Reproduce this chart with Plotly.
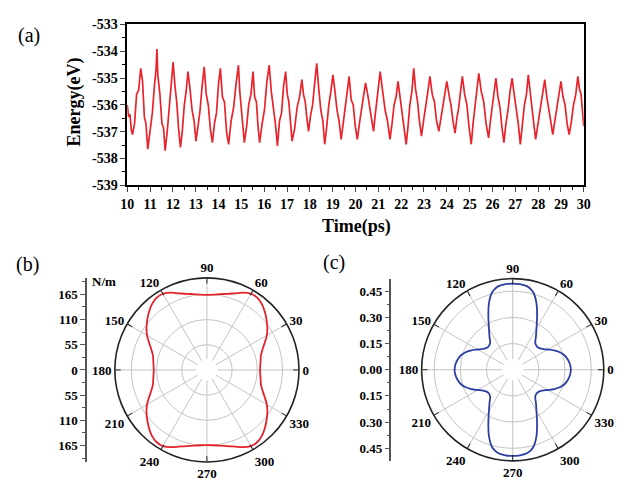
import plotly.graph_objects as go

W, H = 625, 486

# ---------------- (a) energy vs time ----------------
time_ps = [
    10.00, 10.06, 10.12, 10.18, 10.23,
    10.32, 10.41, 10.50, 10.59,
    10.67, 10.75, 10.82, 10.90,
    11.00, 11.10, 11.20, 11.26, 11.30,
    11.34, 11.43, 11.52, 11.59, 11.66,
    11.75, 11.84, 11.93, 12.01,
    12.09, 12.17, 12.25, 12.33,
    12.41, 12.50, 12.58, 12.66,
    12.75, 12.84, 12.93, 13.01,
    13.10, 13.19, 13.28, 13.37,
    13.46, 13.55, 13.64, 13.73,
    13.82, 13.91, 14.00, 14.08,
    14.17, 14.26, 14.35, 14.44,
    14.55, 14.66, 14.77, 14.87,
    14.93, 15.00, 15.07, 15.13,
    15.23, 15.32, 15.42, 15.51,
    15.58, 15.66, 15.73, 15.80,
    15.91, 16.01, 16.12, 16.22,
    16.31, 16.40, 16.49, 16.58,
    16.67, 16.76, 16.85, 16.94,
    17.01, 17.08, 17.15, 17.22,
    17.33, 17.44, 17.55, 17.65,
    17.72, 17.80, 17.87, 17.94,
    18.03, 18.12, 18.21, 18.30,
    18.39, 18.48, 18.57, 18.65,
    18.74, 18.83, 18.92, 19.01,
    19.10, 19.19, 19.28, 19.37,
    19.46, 19.55, 19.64, 19.72,
    19.81, 19.90, 19.99, 20.08,
    20.17, 20.26, 20.35, 20.44,
    20.53, 20.62, 20.71, 20.79,
    20.86, 20.94, 21.01, 21.08,
    21.19, 21.30, 21.40, 21.51,
    21.60, 21.69, 21.78, 21.86,
    21.95, 22.04, 22.13, 22.22,
    22.30, 22.38, 22.47, 22.55,
    22.63, 22.72, 22.80, 22.89,
    22.98, 23.08, 23.17, 23.26,
    23.36, 23.46, 23.55, 23.65,
    23.74, 23.83, 23.92, 24.00,
    24.09, 24.18, 24.27, 24.36,
    24.44, 24.52, 24.60, 24.68,
    24.78, 24.88, 24.97, 25.07,
    25.15, 25.23, 25.32, 25.40,
    25.51, 25.62, 25.72, 25.83,
    25.91, 25.99, 26.07, 26.15,
    26.24, 26.33, 26.41, 26.50,
    26.59, 26.68, 26.77, 26.86,
    26.95, 27.04, 27.13, 27.22,
    27.31, 27.40, 27.49, 27.57,
    27.65, 27.73, 27.81, 27.89,
    27.99, 28.09, 28.19, 28.29,
    28.38, 28.47, 28.55, 28.64,
    28.73, 28.82, 28.91, 29.00,
    29.09, 29.18, 29.27, 29.36,
    29.46, 29.55, 29.65, 29.74,
    29.81, 29.88, 29.94, 30.00,
]
energy_ev = [
    -536.00, -536.45, -536.35, -536.95, -537.11,
    -536.70, -535.60, -535.45, -534.64,
    -535.10, -536.45, -536.70, -537.65,
    -536.90, -536.30, -535.20, -534.70, -533.92,
    -534.90, -535.60, -536.70, -536.85, -537.71,
    -537.00, -536.20, -535.40, -534.40,
    -535.30, -535.90, -536.90, -537.59,
    -537.00, -536.00, -535.50, -534.76,
    -535.40, -536.20, -536.60, -537.35,
    -536.80, -536.20, -535.30, -534.58,
    -535.60, -536.00, -536.90, -537.41,
    -536.70, -536.30, -535.20, -534.64,
    -535.70, -535.90, -537.00, -537.47,
    -536.60, -536.10, -535.20, -534.52,
    -535.50, -536.20, -536.60, -537.41,
    -536.80, -536.00, -535.60, -534.76,
    -535.70, -535.90, -536.80, -537.41,
    -536.70, -536.20, -535.10, -534.52,
    -535.50, -536.10, -536.70, -537.53,
    -536.60, -536.30, -535.30, -534.76,
    -535.60, -535.90, -536.80, -537.35,
    -536.90, -536.10, -535.70, -535.06,
    -535.60, -535.90, -536.50, -536.99,
    -536.40, -536.00, -535.20, -534.45,
    -535.40, -536.20, -536.60, -537.47,
    -536.80, -536.00, -535.50, -534.88,
    -535.50, -536.20, -536.60, -537.29,
    -536.70, -536.10, -535.60, -534.94,
    -535.80, -536.00, -536.80, -537.29,
    -536.70, -536.20, -535.60, -535.18,
    -535.60, -536.10, -536.50, -536.99,
    -536.40, -535.80, -535.40, -534.76,
    -535.50, -536.20, -536.60, -537.29,
    -536.70, -536.00, -535.70, -535.12,
    -535.70, -536.30, -536.70, -537.47,
    -536.80, -536.00, -535.50, -534.64,
    -535.40, -535.90, -536.60, -537.17,
    -536.60, -536.10, -535.50, -534.94,
    -535.60, -535.90, -536.60, -536.99,
    -536.50, -536.00, -535.60, -535.12,
    -535.60, -536.00, -536.60, -537.05,
    -536.50, -536.10, -535.50, -534.94,
    -535.60, -536.00, -536.80, -537.47,
    -536.70, -536.10, -535.50, -534.82,
    -535.50, -535.90, -536.70, -537.23,
    -536.60, -536.00, -535.60, -535.00,
    -535.70, -536.10, -536.80, -537.41,
    -536.70, -536.20, -535.50, -535.00,
    -535.60, -536.10, -536.70, -537.47,
    -536.70, -536.00, -535.60, -534.88,
    -535.50, -536.00, -536.70, -537.29,
    -536.70, -536.10, -535.70, -535.06,
    -535.70, -536.10, -536.60, -537.11,
    -536.60, -536.10, -535.70, -535.12,
    -535.70, -536.00, -536.70, -537.11,
    -536.60, -536.00, -535.60, -534.94,
    -535.40, -535.60, -536.20, -536.80,
]
x_ticks_a = [10, 11, 12, 13, 14, 15, 16, 17, 18, 19, 20, 21, 22, 23, 24, 25, 26, 27, 28, 29, 30]
y_ticks_a = [-539, -538, -537, -536, -535, -534, -533]
y_ticktext_a = ["-539", "-538", "-537", "-536", "-535", "-534", "-533"]

# ---------------- (b), (c) polar curves ----------------
angles_deg = [0, 5, 10, 15, 20, 25, 30, 35, 40, 45, 50, 55, 60, 65, 70, 75, 80, 85, 90,
              95, 100, 105, 110, 115, 120, 125, 130, 135, 140, 145, 150, 155, 160, 165, 170, 175, 180,
              185, 190, 195, 200, 205, 210, 215, 220, 225, 230, 235, 240, 245, 250, 255, 260, 265, 270,
              275, 280, 285, 290, 295, 300, 305, 310, 315, 320, 325, 330, 335, 340, 345, 350, 355, 360]
young_nm = [116, 117, 119, 122, 129, 139, 151, 161, 170, 179, 187, 192, 192, 186, 178, 172, 168, 165, 164,
            165, 168, 172, 178, 186, 192, 192, 187, 179, 170, 161, 151, 139, 129, 122, 119, 117, 116,
            117, 119, 122, 129, 139, 151, 161, 170, 179, 187, 192, 192, 186, 178, 172, 168, 165, 164,
            165, 168, 172, 178, 186, 192, 192, 187, 179, 170, 161, 151, 139, 129, 122, 119, 117, 116]
poisson = [0.333, 0.330, 0.322, 0.310, 0.290, 0.262, 0.232, 0.208, 0.195, 0.193, 0.201, 0.232, 0.272,
           0.330, 0.400, 0.458, 0.485, 0.492, 0.494,
           0.492, 0.485, 0.458, 0.400, 0.330, 0.272, 0.232, 0.201, 0.193, 0.195, 0.208, 0.232, 0.262,
           0.290, 0.310, 0.322, 0.330, 0.333,
           0.330, 0.322, 0.310, 0.290, 0.262, 0.232, 0.208, 0.195, 0.193, 0.201, 0.232, 0.272,
           0.330, 0.400, 0.458, 0.485, 0.492, 0.494,
           0.492, 0.485, 0.458, 0.400, 0.330, 0.272, 0.232, 0.201, 0.193, 0.195, 0.208, 0.232, 0.262,
           0.290, 0.310, 0.322, 0.330, 0.333]
ang_ticks = [0, 30, 60, 90, 120, 150, 180, 210, 240, 270, 300, 330]
ang_ticktext = ["0", "30", "60", "90", "120", "150", "180", "210", "240", "270", "300", "330"]
b_ticks = [-165, -110, -55, 0, 55, 110, 165]
b_ticktext = ["165", "110", "55", "0", "55", "110", "165"]
c_ticks = [-0.45, -0.30, -0.15, 0.0, 0.15, 0.30, 0.45]
c_ticktext = ["0.45", "0.30", "0.15", "0.00", "0.15", "0.30", "0.45"]
b_rmax = 201
c_rmax = 0.522

# ---------------- layout helpers ----------------
def px(x):
    return x / W

def py(y):
    return 1 - y / H

SERIF = "Liberation Serif"
BOLD13 = dict(family=SERIF, size=13, color="black", weight="bold")
BOLD14 = dict(family=SERIF, size=14, color="black", weight="bold")

fig = go.Figure()

fig.add_trace(go.Scatter(x=time_ps, y=energy_ev, mode="lines",
                         line=dict(color="#e8232b", width=1.7),
                         xaxis="x", yaxis="y", showlegend=False))

# polar panels
bcx, bcy, bR = 204.5, 374.5, 95
ccx, ccy, cR = 517.3, 374.3, 94

def polar_pair(cx, cy, R, rmax, minor_r, major_r):
    dom = dict(x=[px(cx - R), px(cx + R)], y=[py(cy + R), py(cy - R)])
    base = dict(
        domain=dom, bgcolor="white",
        angularaxis=dict(rotation=0, direction="counterclockwise",
                         tickmode="array", tickvals=[a for a in range(0, 360, 15)],
                         showticklabels=False, ticks="inside", ticklen=3, tickcolor="#333",
                         showline=False, gridcolor="#ececec", gridwidth=1),
        radialaxis=dict(range=[0, rmax], tickmode="array", tickvals=minor_r,
                        showticklabels=False, ticks="", showline=False,
                        gridcolor="#ececec", gridwidth=1),
    )
    top = dict(
        domain=dom, bgcolor="rgba(0,0,0,0)",
        angularaxis=dict(rotation=0, direction="counterclockwise",
                         tickmode="array", tickvals=ang_ticks, ticktext=ang_ticktext,
                         tickfont=BOLD13, ticks="inside", ticklen=5, tickcolor="#222",
                         showline=True, linecolor="#222", linewidth=1.6,
                         gridcolor="#c4c4c4", gridwidth=1),
        radialaxis=dict(range=[0, rmax], tickmode="array", tickvals=major_r,
                        showticklabels=False, ticks="", showline=False,
                        gridcolor="#c4c4c4", gridwidth=1),
    )
    return base, top

pb0, pb1 = polar_pair(bcx, bcy, bR, b_rmax, [27.5, 82.5, 137.5, 192.5], [55, 110, 165])
pc0, pc1 = polar_pair(ccx, ccy, cR, c_rmax, [0.075, 0.225, 0.375], [0.15, 0.30, 0.45])

fig.add_trace(go.Scatterpolar(r=young_nm, theta=angles_deg, mode="lines",
                              line=dict(color="#e3232b", width=1.8, shape="spline"),
                              subplot="polar2", showlegend=False))
fig.add_trace(go.Scatterpolar(r=poisson, theta=angles_deg, mode="lines",
                              line=dict(color="#2e3fa3", width=1.8, shape="spline"),
                              subplot="polar4", showlegend=False))

# dummy traces to hold the side radial scales
fig.add_trace(go.Scatter(x=[None], y=[None], xaxis="x2", yaxis="y2", showlegend=False, hoverinfo="skip"))
fig.add_trace(go.Scatter(x=[None], y=[None], xaxis="x3", yaxis="y3", showlegend=False, hoverinfo="skip"))

side_axis_common = dict(side="left", ticks="outside", ticklen=5, tickwidth=1.2,
                        showline=True, linecolor="#555", linewidth=1.5, tickcolor="#555",
                        showgrid=False, zeroline=False, tickfont=BOLD13, fixedrange=True)

fig.update_layout(
    width=W, height=H, margin=dict(l=0, r=0, t=0, b=0),
    paper_bgcolor="white", plot_bgcolor="white",
    xaxis=dict(domain=[px(123), px(590)], range=[10, 30], anchor="y",
               tickmode="array", tickvals=x_ticks_a, ticks="outside", ticklen=5, tickwidth=1.2,
               showline=True, linecolor="black", linewidth=1.5, mirror=True,
               showgrid=False, zeroline=False, tickfont=BOLD14,
               minor=dict(ticks="outside", ticklen=3, dtick=0.5, tick0=10, tickcolor="black")),
    yaxis=dict(domain=[py(184), py(18)], range=[-539, -533], anchor="x",
               tickmode="array", tickvals=y_ticks_a, ticktext=y_ticktext_a,
               ticks="outside", ticklen=5, tickwidth=1.2,
               showline=True, linecolor="black", linewidth=1.5, mirror=True,
               showgrid=False, zeroline=False, tickfont=BOLD14,
               minor=dict(ticks="outside", ticklen=3, dtick=0.5, tick0=-539, tickcolor="black")),
    xaxis2=dict(domain=[px(82), px(88)], visible=False, anchor="y2", range=[0, 1]),
    yaxis2=dict(domain=[py(bcy + bR), py(bcy - bR)], range=[-b_rmax, b_rmax], anchor="x2",
                tickmode="array", tickvals=b_ticks, ticktext=b_ticktext,
                minor=dict(ticks="outside", ticklen=3, dtick=27.5, tick0=0, tickcolor="#555"),
                **side_axis_common),
    xaxis3=dict(domain=[px(393.3), px(399)], visible=False, anchor="y3", range=[0, 1]),
    yaxis3=dict(domain=[py(ccy + cR), py(ccy - cR)], range=[-c_rmax, c_rmax], anchor="x3",
                tickmode="array", tickvals=c_ticks, ticktext=c_ticktext,
                minor=dict(ticks="outside", ticklen=3, dtick=0.075, tick0=0, tickcolor="#555"),
                **side_axis_common),
    polar=pb0, polar2=pb1, polar3=pc0, polar4=pc1,
)

# center holes of the polar grids
for cx, cy in [(bcx, bcy), (ccx, ccy)]:
    r = 11
    fig.add_shape(type="circle", xref="paper", yref="paper",
                  x0=px(cx - r), x1=px(cx + r), y0=py(cy + r), y1=py(cy - r),
                  fillcolor="white", line=dict(width=0), layer="above")

ann = [
    dict(text="(a)", x=px(23), y=py(29), font=dict(family=SERIF, size=20, color="black")),
    dict(text="(b)", x=px(21), y=py(266), font=dict(family=SERIF, size=20, color="black")),
    dict(text="(c)", x=px(335), y=py(264), font=dict(family=SERIF, size=20, color="black")),
    dict(text="Energy(eV)", x=px(70), y=py(98), textangle=-90,
         font=dict(family=SERIF, size=18, color="black", weight="bold")),
    dict(text="Time(ps)", x=px(357), y=py(227),
         font=dict(family=SERIF, size=18, color="black", weight="bold")),
]
for a in ann:
    fig.add_annotation(xref="paper", yref="paper", showarrow=False,
                       xanchor="center", yanchor="middle", **a)
fig.add_annotation(text="N/m", xref="paper", yref="paper", x=px(85), y=py(283),
                   xanchor="left", yanchor="middle", showarrow=False, font=BOLD13)

fig.write_html("out.html")
